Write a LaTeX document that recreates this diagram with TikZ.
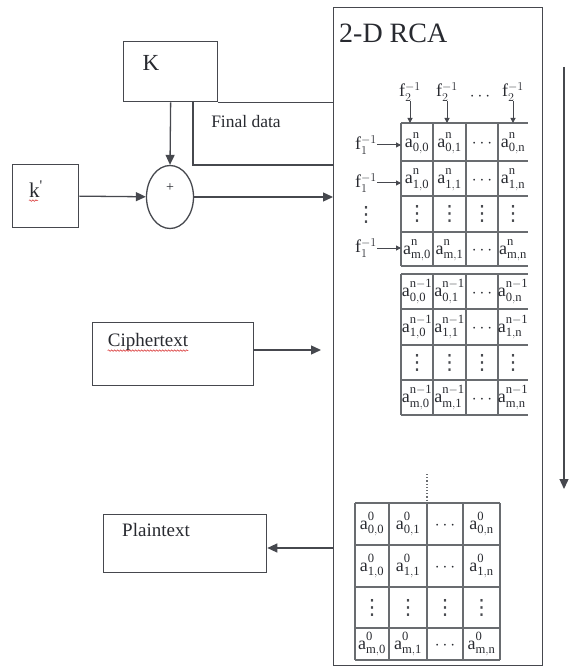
\documentclass[tikz,border=0pt]{standalone}
\usepackage{fontspec}
\setmainfont{Liberation Serif}
\newfontfamily\symfont{DejaVu Sans}
\usetikzlibrary{arrows.meta,calc,positioning,shapes.geometric,decorations.pathmorphing}
\definecolor{ink}{RGB}{40,42,48}
\definecolor{wire}{RGB}{70,72,78}
\definecolor{gridline}{RGB}{105,108,112}
\definecolor{spell}{RGB}{215,40,40}
\newcommand{\acell}[2]{$\mathrm{a}^{\mathrm{#1}\mathstrut}_{\mathrm{#2}\mathstrut}$}
\newcommand{\vdt}{{\symfont ⋮}}
\def\GxA{417}
\def\GxB{449.5}
\def\GxC{482}
\def\GxD{513}
\def\GzA{372}
\def\GzB{408}
\def\GzC{445}
\def\GzD{481.5}
\tikzset{
  blk/.style={
    draw=wire, line width=1.3pt, anchor=north west,
    inner sep=0pt, fill=white,
  },
  txt/.style={
    text=ink, inner sep=0pt, font=\fontsize{19}{21}\selectfont,
  },
  xorop/.style={
    ellipse, draw=wire, line width=1.3pt,
    minimum width=47pt, minimum height=63pt, inner sep=0pt,
  },
  cell/.style={text=ink, inner sep=0pt, font=\fontsize{18}{20}\selectfont},
  vdot/.style={text=ink!85, inner sep=0pt, font=\fontsize{21}{22}\selectfont},
  flbl/.style={text=ink, inner sep=0pt, font=\fontsize{18}{20}\selectfont},
  gridl/.style={draw=gridline, line width=1.5pt},
  arr/.style={-{Triangle[length=10pt,width=9pt]}, line width=1.3pt, draw=wire},
  farr/.style={-{Triangle[length=5pt,width=5pt]}, line width=1pt, draw=wire},
  squiggle/.style={draw=spell, line width=0.5pt, decorate,
    decoration={snake, amplitude=0.8pt, segment length=3pt}},
}

\begin{document}
\begin{tikzpicture}[x=1pt,y=-1pt]
  \useasboundingbox (0,0) rectangle (570,668);

  % key / input blocks
  \node[blk, minimum width=94pt, minimum height=60pt] (K) at (123,41) {};
  \node[txt, font=\fontsize{23}{25}\selectfont] (Klbl) at (151,63) {K};
  \node[blk, minimum width=66pt, minimum height=63pt] (kp) at (12,164) {};
  \node[txt, font=\fontsize{21}{23}\selectfont] (kplbl) at (36,189) {k\textsuperscript{\textquotesingle}};
  \draw[squiggle] ([yshift=-3pt]kplbl.base west) -- ([yshift=-3pt,xshift=-5pt]kplbl.base east);
  \node[xorop] (xor) at (170,197) {};
  \node[txt, font=\fontsize{14}{14}\selectfont] (plus) at (170,188) {+};
  \node[blk, minimum width=161pt, minimum height=63pt] (cipher) at (92,322) {};
  \node[txt] (cipherlbl) at (148,342) {Ciphertext};
  \draw[squiggle] ([yshift=-4pt]cipherlbl.base west) -- ([yshift=-4pt]cipherlbl.base east);
  \node[blk, minimum width=163pt, minimum height=58pt] (plain) at (103,514) {};
  \node[txt] (plainlbl) at (156,530) {Plaintext};

  % 2-D RCA block
  \node[blk, fill=none, minimum width=209pt, minimum height=658pt] (rca) at (333,7) {};
  \node[txt, anchor=west, font=\fontsize{28}{30}\selectfont] (rcatitle) at (339,33) {2-D RCA};

  % connectors
  \draw[arr] (K.south) -- (xor.north);
  \draw[arr] (kp.east) -- (xor);
  \draw[arr] (xor.east) -- (xor.east -| rca.west);
  \draw[wire, line width=1.3pt] (K.south east) -- (K.south east -| rca.west);
  \coordinate (fdtop) at (193,101);
  \coordinate (fdbot) at (193,165);
  \draw[wire, line width=1.3pt] (fdtop) -- (fdbot) -- (fdbot -| rca.west);
  \node[txt, font=\fontsize{17.5}{19}\selectfont] (fdlbl) at (246,122) {Final data};
  \coordinate (cin) at (321,350);
  \draw[arr] (cipher.east |- cin) -- (cin);
  \coordinate (pout) at (333,548);
  \draw[arr] (pout) -- (pout -| plain.east);
  \coordinate (flowtop) at (564,67);
  \coordinate (flowbot) at (564,489);
  \draw[arr] (flowtop) -- (flowbot);

  % grid n
  \coordinate (gntop) at (401,123);
  \foreach \y in {123,161,196,232,266} \draw[gridl] (401,\y) -- (528,\y);
  \foreach \x in {401,433,466,498} \draw[gridl] (\x,123) -- (\x,266);
  \node[cell] (n00) at (\GxA,142) {\acell{n}{0,0}};
  \node[cell] (n01) at (\GxB,142) {\acell{n}{0,1}};
  \node[cell] (n0d) at (\GxC,144) {$\cdots$};
  \node[cell] (n0n) at (\GxD,142) {\acell{n}{0,n}};
  \node[cell] (n10) at (\GxA,178.5) {\acell{n}{1,0}};
  \node[cell] (n11) at (\GxB,178.5) {\acell{n}{1,1}};
  \node[cell] (n1d) at (\GxC,180.5) {$\cdots$};
  \node[cell] (n1n) at (\GxD,178.5) {\acell{n}{1,n}};
  \node[vdot] (nv0) at (\GxA,214) {\vdt};
  \node[vdot] (nv1) at (\GxB,214) {\vdt};
  \node[vdot] (nv2) at (\GxC,214) {\vdt};
  \node[vdot] (nv3) at (\GxD,214) {\vdt};
  \node[cell] (nm0) at (\GxA,249) {\acell{n}{m,0}};
  \node[cell] (nm1) at (\GxB,249) {\acell{n}{m,1}};
  \node[cell] (nmd) at (\GxC,251) {$\cdots$};
  \node[cell] (nmn) at (\GxD,249) {\acell{n}{m,n}};

  % inputs f2 / f1
  \node[flbl] (f2a) at (410,92) {$\mathrm{f}_{2}^{-1}$};
  \node[flbl] (f2b) at (447,92) {$\mathrm{f}_{2}^{-1}$};
  \node[flbl] (f2d) at (480,97) {$\cdots$};
  \node[flbl] (f2c) at (513,92) {$\mathrm{f}_{2}^{-1}$};
  \draw[farr] (f2a.south) -- (f2a.south |- gntop);
  \draw[farr] (f2b.south) -- (f2b.south |- gntop);
  \draw[farr] (f2c.south) -- (f2c.south |- gntop);
  \node[flbl] (f1a) at (366,145) {$\mathrm{f}_{1}^{-1}$};
  \node[flbl] (f1b) at (366,183) {$\mathrm{f}_{1}^{-1}$};
  \node[vdot] (f1v) at (366,215) {\vdt};
  \node[flbl] (f1c) at (366,248) {$\mathrm{f}_{1}^{-1}$};
  \draw[farr] (f1a.east) -- (f1a.east -| gntop);
  \draw[farr] (f1b.east) -- (f1b.east -| gntop);
  \draw[farr] (f1c.east) -- (f1c.east -| gntop);

  % grid n-1
  \foreach \y in {274,309,345,380,415} \draw[gridl] (401,\y) -- (528,\y);
  \foreach \x in {401,433,466,498} \draw[gridl] (\x,274) -- (\x,415);
  \node[cell] (p00) at (\GxA,291.5) {\acell{n-1}{0,0}};
  \node[cell] (p01) at (\GxB,291.5) {\acell{n-1}{0,1}};
  \node[cell] (p0d) at (\GxC,293.5) {$\cdots$};
  \node[cell] (p0n) at (\GxD,291.5) {\acell{n-1}{0,n}};
  \node[cell] (p10) at (\GxA,327) {\acell{n-1}{1,0}};
  \node[cell] (p11) at (\GxB,327) {\acell{n-1}{1,1}};
  \node[cell] (p1d) at (\GxC,329) {$\cdots$};
  \node[cell] (p1n) at (\GxD,327) {\acell{n-1}{1,n}};
  \node[vdot] (pv0) at (\GxA,362.5) {\vdt};
  \node[vdot] (pv1) at (\GxB,362.5) {\vdt};
  \node[vdot] (pv2) at (\GxC,362.5) {\vdt};
  \node[vdot] (pv3) at (\GxD,362.5) {\vdt};
  \node[cell] (pm0) at (\GxA,397.5) {\acell{n-1}{m,0}};
  \node[cell] (pm1) at (\GxB,397.5) {\acell{n-1}{m,1}};
  \node[cell] (pmd) at (\GxC,399.5) {$\cdots$};
  \node[cell] (pmn) at (\GxD,397.5) {\acell{n-1}{m,n}};

  % grid 0
  \draw[gridline, dotted, line width=1.2pt] (427,474) -- (427,501);
  \foreach \y in {503,545,587,628,660} \draw[gridl] (355,\y) -- (500,\y);
  \foreach \x in {355,389,427,463,500} \draw[gridl] (\x,503) -- (\x,660);
  \node[cell] (z00) at (\GzA,524) {\acell{0}{0,0}};
  \node[cell] (z01) at (\GzB,524) {\acell{0}{0,1}};
  \node[cell] (z0d) at (\GzC,526) {$\cdots$};
  \node[cell] (z0n) at (\GzD,524) {\acell{0}{0,n}};
  \node[cell] (z10) at (\GzA,566) {\acell{0}{1,0}};
  \node[cell] (z11) at (\GzB,566) {\acell{0}{1,1}};
  \node[cell] (z1d) at (\GzC,568) {$\cdots$};
  \node[cell] (z1n) at (\GzD,566) {\acell{0}{1,n}};
  \node[vdot] (zv0) at (\GzA,607.5) {\vdt};
  \node[vdot] (zv1) at (\GzB,607.5) {\vdt};
  \node[vdot] (zv2) at (\GzC,607.5) {\vdt};
  \node[vdot] (zv3) at (\GzD,607.5) {\vdt};
  \node[cell] (zm0) at (\GzA,644) {\acell{0}{m,0}};
  \node[cell] (zm1) at (\GzB,644) {\acell{0}{m,1}};
  \node[cell] (zmd) at (\GzC,646) {$\cdots$};
  \node[cell] (zmn) at (\GzD,644) {\acell{0}{m,n}};
\end{tikzpicture}
\end{document}
